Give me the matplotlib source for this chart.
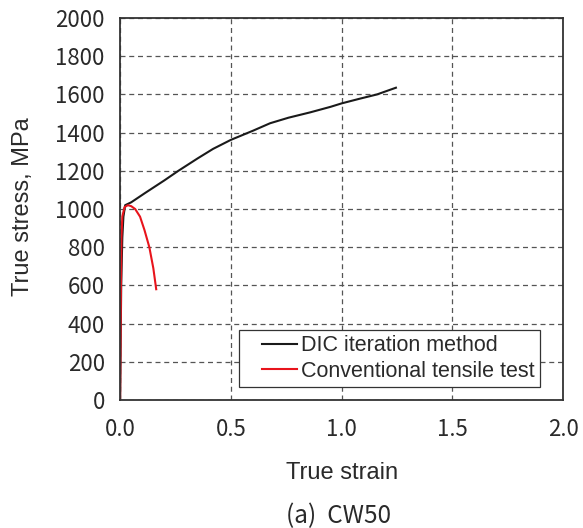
import numpy as np
import matplotlib
matplotlib.use("Agg")
import matplotlib.pyplot as plt
from matplotlib.legend_handler import HandlerLine2D

# DIC iteration method
dic_strain = [0, 0.005, 0.01, 0.015, 0.023, 0.05, 0.113, 0.2, 0.263, 0.35, 0.42,
              0.5, 0.6, 0.677, 0.76, 0.858, 0.95, 1.0, 1.08, 1.16, 1.245]
dic_stress = [0, 600, 850, 960, 1020, 1035, 1084, 1150, 1200, 1265, 1315,
              1362, 1410, 1449, 1478, 1506, 1535, 1553, 1577, 1600, 1635]

# conventional tensile test
ten_strain = [0, 0.002, 0.004, 0.006, 0.01, 0.02, 0.035, 0.05, 0.068, 0.09,
              0.11, 0.132, 0.15, 0.163]
ten_stress = [0, 300, 600, 850, 960, 1010, 1020, 1015, 1000, 960,
              890, 800, 690, 580]

xticks = [0.0, 0.5, 1.0, 1.5, 2.0]
yticks = list(range(0, 2001, 200))

arial = "Liberation Sans"
jp = "Noto Sans CJK JP"
txt = "#2a2a2a"


class ShortLine(HandlerLine2D):
    # legend line only covers the right part of the handle box
    def get_xdata(self, legend, xdescent, ydescent, width, height, fontsize):
        x0 = -xdescent + 0.33 * width
        x1 = -xdescent + width
        return np.array([x0, x1]), np.array([(x0 + x1) / 2])


fig = plt.figure(figsize=(5.83, 5.28), dpi=100)
ax = fig.add_axes([0.206, 0.2424, 0.760, 0.7235])

ax.plot(dic_strain, dic_stress, color="#1a1a1a", lw=1.5, label="DIC iteration method")
ax.plot(ten_strain, ten_stress, color="#e8141c", lw=1.5, label="Conventional tensile test")

ax.set_xlim(0, 2.0)
ax.set_ylim(0, 2000)
ax.set_xticks(xticks)
ax.set_xticklabels([f"{v:.1f}" for v in xticks], family=jp, fontsize=16, color=txt)
ax.set_yticks(yticks)
ax.set_yticklabels([str(v) for v in yticks], family=jp, fontsize=16, color=txt)
ax.tick_params(axis="x", length=0, pad=13)
ax.tick_params(axis="y", length=0, pad=11)

ax.grid(True, color="#555555", linestyle=(0, (4, 3)), lw=0.9)
for s in ax.spines.values():
    s.set_color("#333333")
    s.set_linewidth(1.3)

ax.set_ylabel("True stress, MPa", family=arial, fontsize=17, color=txt)
ax.set_xlabel("True strain", family=arial, fontsize=17, color=txt)
ax.yaxis.set_label_coords(-0.219, 0.505)
ax.yaxis.label.set_va("center")
ax.xaxis.set_label_coords(0.5, -0.191)
ax.xaxis.label.set_va("center")

leg = ax.legend(loc="lower right", bbox_to_anchor=(0.948, 0.034), borderaxespad=0,
                fancybox=False, edgecolor="#333333", framealpha=1,
                prop={"family": arial, "size": 15.5}, handlelength=2.44,
                handletextpad=0.2, borderpad=0.25, labelspacing=0.2,
                handler_map={plt.Line2D: ShortLine()})
leg.get_frame().set_linewidth(0.9)
for t in leg.get_texts():
    t.set_color(txt)

fig.text(0.58, 0.0227, "(a)  CW50", family=jp, fontsize=17.5, color=txt,
         ha="center", va="center")

fig.savefig("out.png", dpi=100)
